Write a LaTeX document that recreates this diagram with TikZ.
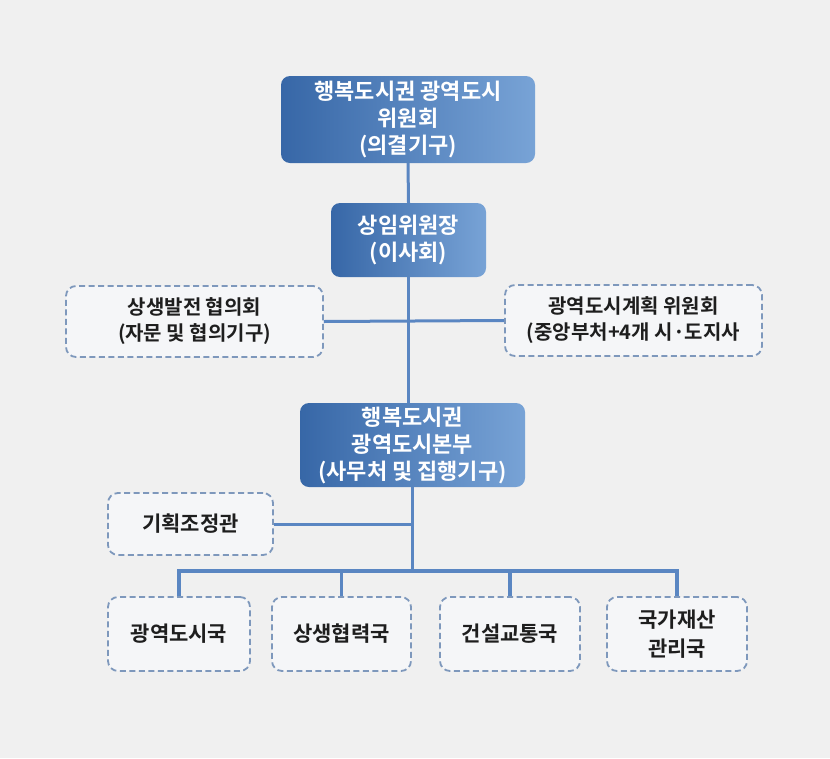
\documentclass[tikz,border=0pt]{standalone}
\usepackage{fontspec}
\newfontfamily\kr{Noto Sans CJK KR Bold}
\definecolor{bg}{HTML}{F0F0F0}
\definecolor{boxdark}{HTML}{3767A7}
\definecolor{boxlight}{HTML}{78A3D6}
\definecolor{linec}{HTML}{5A86C2}
\definecolor{dashc}{HTML}{7E98BC}
\definecolor{dfill}{HTML}{F5F6F8}
\definecolor{txt}{HTML}{1E1E1E}
\tikzset{
  mainbox/.style={rounded corners=9pt, left color=boxdark, middle color=boxdark, right color=boxlight,
    text=white, align=center, inner sep=0pt, font=\kr\fontsize{22}{27}\selectfont},
  subbox/.style={rounded corners=10pt, draw=dashc, line width=1.8pt, dash pattern=on 6pt off 3.5pt,
    fill=dfill, text=txt, align=center, inner sep=0pt, font=\kr\fontsize{20}{26}\selectfont},
  bigsub/.style={subbox, font=\kr\fontsize{21}{29}\selectfont},
  conn/.style={draw=linec, line width=3pt},
}
\begin{document}
\begin{tikzpicture}[x=1pt,y=-1pt]
\fill[bg] (0,0) rectangle (830,758);
\useasboundingbox (0,0) rectangle (830,758);

\node[mainbox, minimum width=254pt, minimum height=87pt] (top) at (408,119.5)
  {행복도시권 광역도시\\위원회\\(의결기구)};
\node[mainbox, minimum width=155pt, minimum height=74pt] (chair) at (408.5,240)
  {상임위원장\\(이사회)};
\node[subbox, minimum width=257pt, minimum height=71pt] (adv) at (194.5,321.5)
  {상생발전 협의회\\(자문 및 협의기구)};
\node[subbox, minimum width=257pt, minimum height=71pt] (plan) at (633.5,320.5)
  {광역도시계획 위원회\\(중앙부처+4개 시·도지사};
\node[mainbox, minimum width=225pt, minimum height=84pt] (hq) at (412.5,445)
  {행복도시권\\광역도시본부\\(사무처 및 집행기구)};
\node[bigsub, minimum width=165pt, minimum height=62pt] (coord) at (190.5,524)
  {기획조정관};
\node[bigsub, minimum width=142pt, minimum height=74pt] (d1) at (179,634) {광역도시국};
\node[bigsub, minimum width=139pt, minimum height=74pt] (d2) at (341.5,634) {상생협력국};
\node[bigsub, minimum width=140pt, minimum height=74pt] (d3) at (510,634) {건설교통국};
\node[bigsub, minimum width=140pt, minimum height=74pt] (d4) at (677,634) {국가재산\\관리국};

\coordinate (bus) at (412.5,571);

\path[conn] (top.south) -- (chair.north);
\path[conn] (chair.south) -- (chair.south |- hq.north);
\path[conn] (adv.east) -- (plan.west);
\path[conn] (hq.south) -- (bus);
\path[conn] (coord.east) -- (coord.east -| hq.south);
\path[conn, line width=4pt] (d1.north) |- (bus) -| (d4.north);
\path[conn, line width=3.5pt] (d2.north) -- (d2.north |- bus);
\path[conn, line width=3.5pt] (d3.north) -- (d3.north |- bus);
\end{tikzpicture}
\end{document}
